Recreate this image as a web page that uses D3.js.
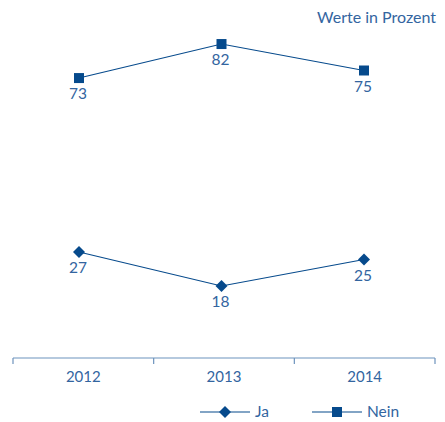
<!DOCTYPE html>
<html>
<head>
<meta charset="utf-8">
<script src="https://cdn.jsdelivr.net/npm/d3@7"></script>
<style>
  html, body { margin: 0; padding: 0; background: #fff; }
  svg { display: block; }
  text { font-family: Lato, "Open Sans", sans-serif; }
</style>
</head>
<body>
<svg id="chart" width="445" height="422"></svg>
<script>
// Anteile "Ja" / "Nein" je Jahr, Werte in Prozent
const years = ["2012", "2013", "2014"];
const ja = [27, 18, 25];
const nein = [73, 82, 75];
const seriesNames = ["Ja", "Nein"];
const unitLabel = "Werte in Prozent";

const markColor = "#064a8c";
const textColor = "#33659f";
const axisColor = "#6d93bd";

const svg = d3.select("#chart");

// Band scale for the category axis, point scale for the markers
const xBand = d3.scaleBand().domain(years).range([13, 435]);
const xPoint = d3.scalePoint().domain(years).range([79, 364]);
const y = d3.scaleLinear().domain([0, 100]).range([354, -24]);

const axisY = 358;

// Unit caption
svg.append("text")
  .attr("x", 436).attr("y", 23)
  .attr("text-anchor", "end")
  .attr("fill", textColor)
  .attr("font-size", 16)
  .text(unitLabel);

// Category axis: base line, boundary ticks, year labels
const axisG = svg.append("g");
axisG.append("line")
  .attr("x1", xBand.range()[0]).attr("x2", xBand.range()[1])
  .attr("y1", axisY).attr("y2", axisY)
  .attr("stroke", axisColor).attr("stroke-width", 1.2);
const boundaries = years.map(d => xBand(d)).concat([xBand.range()[1]]);
axisG.selectAll("line.tick").data(boundaries).join("line")
  .attr("class", "tick")
  .attr("x1", d => d).attr("x2", d => d)
  .attr("y1", axisY).attr("y2", axisY + 6)
  .attr("stroke", axisColor).attr("stroke-width", 1.2);
axisG.selectAll("text").data(years).join("text")
  .attr("x", d => xBand(d) + xBand.bandwidth() / 2)
  .attr("y", 382)
  .attr("text-anchor", "middle")
  .attr("fill", textColor)
  .attr("font-size", 15)
  .text(d => d);

const line = d3.line()
  .x(d => xPoint(d.year))
  .y(d => y(d.value));

const diamond = d3.symbol().type(d3.symbolSquare).size(72);
const square = d3.symbol().type(d3.symbolSquare).size(100);

function drawSeries(values, kind) {
  const data = years.map((yr, i) => ({ year: yr, value: values[i] }));
  const g = svg.append("g");
  g.append("path")
    .datum(data)
    .attr("fill", "none")
    .attr("stroke", markColor)
    .attr("stroke-width", 1.1)
    .attr("d", line);
  g.selectAll("path.mark").data(data).join("path")
    .attr("class", "mark")
    .attr("d", kind === "diamond" ? diamond : square)
    .attr("transform", d => `translate(${xPoint(d.year)},${y(d.value)})` + (kind === "diamond" ? " rotate(45)" : ""))
    .attr("fill", markColor);
  g.selectAll("text").data(data).join("text")
    .attr("x", d => xPoint(d.year) - 1)
    .attr("y", d => y(d.value) + 21)
    .attr("text-anchor", "middle")
    .attr("fill", textColor)
    .attr("font-size", 15.5)
    .text(d => d.value);
}

drawSeries(nein, "square");
drawSeries(ja, "diamond");

// Legend
const legend = [
  { name: seriesNames[0], kind: "diamond", x: 200 },
  { name: seriesNames[1], kind: "square", x: 312 }
];
const legendY = 412;
const lg = svg.append("g");
legend.forEach(item => {
  lg.append("line")
    .attr("x1", item.x).attr("x2", item.x + 50)
    .attr("y1", legendY).attr("y2", legendY)
    .attr("stroke", markColor).attr("stroke-width", 1.1);
  lg.append("path")
    .attr("d", item.kind === "diamond" ? diamond : square)
    .attr("transform", `translate(${item.x + 25},${legendY})` + (item.kind === "diamond" ? " rotate(45)" : ""))
    .attr("fill", markColor);
  lg.append("text")
    .attr("x", item.x + 55).attr("y", legendY + 5)
    .attr("fill", textColor)
    .attr("font-size", 15.5)
    .text(item.name);
});
</script>
</body>
</html>
